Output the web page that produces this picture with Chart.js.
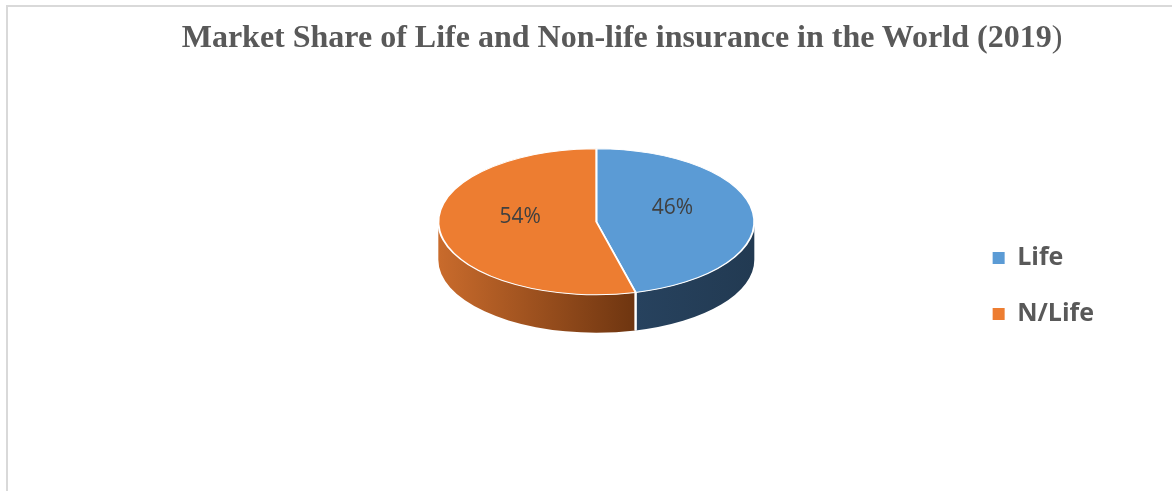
<!DOCTYPE html>
<html>
<head>
<meta charset="utf-8">
<script src="https://cdn.jsdelivr.net/npm/chart.js@4.4.1/dist/chart.umd.min.js"></script>
<style>
html, body { margin: 0; padding: 0; background: #ffffff; width: 1173px; height: 491px; overflow: hidden; }
#frame { position: absolute; left: 6px; top: 5px; width: 1166px; height: 520px; box-sizing: border-box;
  border-top: 2px solid #d9d9d9; border-left: 2px solid #d9d9d9; }
#title { position: absolute; top: 20px; left: 622px; transform: translateX(-50%); white-space: nowrap;
  font-family: "Liberation Serif", "Times New Roman", serif; font-weight: bold; font-size: 32px;
  line-height: 1; color: #595959; }
#title .tail { font-weight: normal; }
canvas { position: absolute; left: 0; top: 0; }
</style>
</head>
<body>
<div id="frame"></div>
<canvas id="chart" width="1173" height="491"></canvas>
<div id="title"><span id="titleMain"></span><span class="tail" id="titleTail"></span></div>
<script>
// ---- data ----
const chartTitle = 'Market Share of Life and Non-life insurance in the World (2019)';
const categories = ['Life', 'N/Life'];
const shares = [46, 54];
const topColors = ['#5b9bd5', '#ed7d31'];
const sideColors = [['#27425e', '#223a52'], ['#c96b2c', '#6e3510']];

document.getElementById('titleMain').textContent = chartTitle.slice(0, -1);
document.getElementById('titleTail').textContent = chartTitle.slice(-1);

// legend styling
const legendFontSize = 25;
const legendFontFamily = "'Open Sans', 'Liberation Sans', sans-serif";
const legendBox = 12;
const legendPad = 31;
const legendLeft = 961;   // left edge of the legend block (box starts legendPad later)

// measure legend width the same way Chart.js does, so its box sits where wanted
const mctx = document.createElement('canvas').getContext('2d');
mctx.font = 'bold ' + legendFontSize + 'px ' + legendFontFamily;
const maxText = Math.max(...categories.map(c => mctx.measureText(c).width));
const legendWidth = legendPad + legendBox + legendFontSize / 2 + maxText + 10;
const rightPad = Math.max(0, Math.floor(1173 - legendLeft - legendWidth));

function visibleRanges(a0, a1) {
  const out = [];
  for (let n = -1; n <= 1; n++) {
    const lo = Math.max(a0, 2 * Math.PI * n);
    const hi = Math.min(a1, 2 * Math.PI * n + Math.PI);
    if (hi > lo) out.push([lo, hi]);
  }
  return out;
}

const pie3d = {
  id: 'pie3d',
  beforeDatasetDraw(chart, args, opts) {
    const ctx = chart.ctx;
    const arcs = chart.getDatasetMeta(args.index).data;
    if (!arcs.length) return;
    const cx = arcs[0].x, cy = arcs[0].y, R = arcs[0].outerRadius;
    const k = opts.tilt, D = opts.depth, ry = R * k;
    ctx.save();
    arcs.forEach((arc, i) => {
      visibleRanges(arc.startAngle, arc.endAngle).forEach(([s, e]) => {
        const xa = cx + R * Math.cos(s), xb = cx + R * Math.cos(e);
        const g = ctx.createLinearGradient(Math.min(xa, xb), 0, Math.max(xa, xb), 0);
        g.addColorStop(0, sideColors[i][0]);
        g.addColorStop(1, sideColors[i][1]);
        ctx.beginPath();
        ctx.ellipse(cx, cy, R, ry, 0, s, e, false);
        ctx.ellipse(cx, cy + D, R, ry, 0, e, s, true);
        ctx.closePath();
        ctx.fillStyle = g;
        ctx.fill();
      });
    });
    ctx.strokeStyle = '#ffffff';
    ctx.lineWidth = 2;
    arcs.forEach(arc => {
      [arc.startAngle, arc.endAngle].forEach(a => {
        const sn = Math.sin(a);
        if (sn > 0.02) {
          const x = cx + R * Math.cos(a), y = cy + ry * sn;
          ctx.beginPath();
          ctx.moveTo(x, y);
          ctx.lineTo(x, y + D);
          ctx.stroke();
        }
      });
    });
    ctx.restore();
    ctx.save();
    ctx.translate(cx, cy);
    ctx.scale(1, k);
    ctx.translate(-cx, -cy);
  },
  afterDatasetDraw(chart) {
    chart.ctx.restore();
  }
};

const sliceLabels = {
  id: 'sliceLabels',
  afterDatasetsDraw(chart, args, opts) {
    const ctx = chart.ctx;
    const meta = chart.getDatasetMeta(0);
    const k = chart.options.plugins.pie3d.tilt;
    ctx.save();
    ctx.font = opts.font;
    ctx.fillStyle = opts.color;
    ctx.textAlign = 'center';
    ctx.textBaseline = 'middle';
    meta.data.forEach((arc, i) => {
      const mid = (arc.startAngle + arc.endAngle) / 2;
      const r = arc.outerRadius * opts.radial;
      const x = arc.x + r * Math.cos(mid);
      const y = arc.y + r * k * Math.sin(mid) - opts.lift;
      ctx.fillText(shares[i] + '%', x, y);
    });
    ctx.restore();
  }
};

const baseLabels = Chart.overrides.pie.plugins.legend.labels.generateLabels;

new Chart(document.getElementById('chart'), {
  type: 'pie',
  data: {
    labels: categories,
    datasets: [{
      data: shares,
      backgroundColor: topColors,
      borderColor: '#ffffff',
      borderWidth: 2,
      radius: 158,
      clip: false
    }]
  },
  options: {
    responsive: false,
    animation: false,
    events: [],
    layout: { padding: { left: 1192 - legendLeft, right: rightPad, top: 86, bottom: 133.5 } },
    plugins: {
      title: { display: false },
      tooltip: { enabled: false },
      legend: {
        position: 'right',
        align: 'end',
        labels: {
          boxWidth: legendBox,
          boxHeight: legendBox,
          padding: legendPad,
          color: '#595959',
          font: { family: legendFontFamily, weight: 'bold', size: legendFontSize },
          generateLabels(chart) {
            return baseLabels(chart).map(l => Object.assign(l, { lineWidth: 0, strokeStyle: 'rgba(0,0,0,0)' }));
          }
        }
      },
      pie3d: { tilt: 0.462, depth: 38 },
      sliceLabels: { font: "21px 'Open Sans', 'Liberation Sans', sans-serif", color: '#404040', radial: 0.485, lift: 9 }
    }
  },
  plugins: [pie3d, sliceLabels]
});
</script>
</body>
</html>
